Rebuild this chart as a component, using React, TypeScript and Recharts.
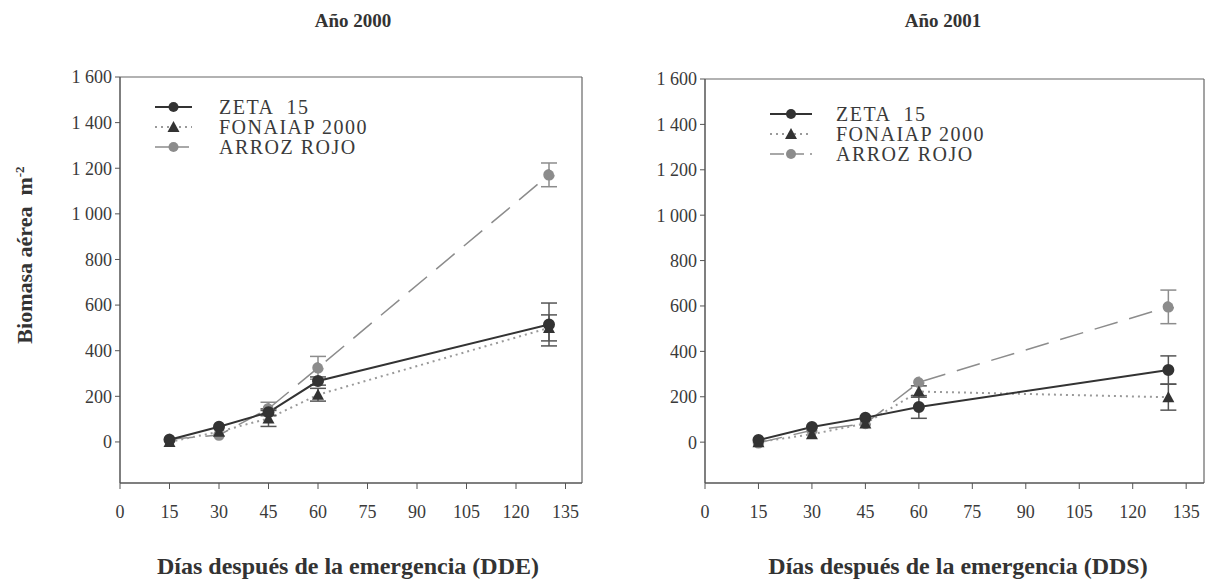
import { LineChart, Line, XAxis, YAxis, ErrorBar, ReferenceLine, Legend } from 'recharts';

const days = [15, 30, 45, 60, 130];

const zeta2000 = [10, 67, 130, 267, 515];
const zeta2000Err = [null, null, 15, 18, 94];
const fonaiap2000 = [0, 45, 103, 207, 500];
const fonaiap2000Err = [null, null, 35, 28, 57];
const arroz2000 = [12, 30, 146, 325, 1171];
const arroz2000Err = [null, null, 28, 50, 52];

const zeta2001 = [9, 67, 108, 155, 318];
const zeta2001Err = [null, null, null, 50, 62];
const fonaiap2001 = [0, 35, 82, 223, 198];
const fonaiap2001Err = [null, null, null, 25, 57];
const arroz2001 = [-3, 52, 82, 264, 596];
const arroz2001Err = [null, null, null, null, 74];

const xTicks = [0, 15, 30, 45, 60, 75, 90, 105, 120, 135];
const yTicks = [0, 200, 400, 600, 800, 1000, 1200, 1400, 1600];
const seriesNames = ['ZETA  15', 'FONAIAP 2000', 'ARROZ ROJO'];

const SERIF = '"Liberation Serif", "DejaVu Serif", serif';
const DARK = '#333';
const GREY = '#8c8c8c';

function buildRows(zeta, zetaErr, fon, fonErr, arroz, arrozErr) {
  return days.map((d, i) => ({
    day: d,
    zeta: zeta[i],
    zetaErr: zetaErr[i],
    fonaiap: fon[i],
    fonaiapErr: fonErr[i],
    arroz: arroz[i],
    arrozErr: arrozErr[i],
  }));
}

const rows2000 = buildRows(zeta2000, zeta2000Err, fonaiap2000, fonaiap2000Err, arroz2000, arroz2000Err);
const rows2001 = buildRows(zeta2001, zeta2001Err, fonaiap2001, fonaiap2001Err, arroz2001, arroz2001Err);

const fmtY = (v: number) =>
  v >= 1000 ? `${Math.floor(v / 1000)} ${String(v % 1000).padStart(3, '0')}` : String(v);

const Triangle = (props: any) => {
  const { cx, cy, index } = props;
  if (cx == null || cy == null) return null;
  return (
    <polygon
      key={`tri-${index}`}
      points={`${cx},${cy - 6} ${cx - 6},${cy + 5} ${cx + 6},${cy + 5}`}
      fill={DARK}
    />
  );
};

const legendStyles = [
  { stroke: DARK, dash: undefined, width: 2, marker: 'circle', fill: DARK },
  { stroke: '#9a9a9a', dash: '2 4', width: 2, marker: 'triangle', fill: DARK },
  { stroke: GREY, dash: '14 6', width: 1.5, marker: 'circle', fill: GREY },
];

const ROW = 20;

function SeriesLegend({ lineWidth, gap }) {
  return (
    <div style={{ fontFamily: SERIF, fontSize: 20, letterSpacing: 1.5, color: '#3a3a3a', lineHeight: `${ROW}px` }}>
      {seriesNames.map((name, i) => {
        const s = legendStyles[i];
        const mid = lineWidth / 2;
        return (
          <div key={name} style={{ display: 'flex', alignItems: 'center', height: ROW }}>
            <svg width={lineWidth} height={ROW} style={{ flexShrink: 0 }}>
              <line x1={0} x2={lineWidth} y1={ROW / 2} y2={ROW / 2} stroke={s.stroke} strokeWidth={s.width} strokeDasharray={s.dash} />
              {s.marker === 'circle' ? (
                <circle cx={mid} cy={ROW / 2} r={5} fill={s.fill} />
              ) : (
                <polygon points={`${mid},${ROW / 2 - 6} ${mid - 6},${ROW / 2 + 5} ${mid + 6},${ROW / 2 + 5}`} fill={s.fill} />
              )}
            </svg>
            <span style={{ marginLeft: gap, whiteSpace: 'pre' }}>{name}</span>
          </div>
        );
      })}
    </div>
  );
}

function Panel({ rows, width, marginLeft, yWidth, marginRight, marginTop, legendLeft, legendTop, legendLine, legendGap }) {
  const tick = { fontFamily: SERIF, fontSize: 18, fill: '#3a3a3a' };
  return (
    <LineChart
      width={width}
      height={585}
      data={rows}
      margin={{ top: marginTop, right: marginRight, bottom: 17, left: marginLeft }}
    >
      <XAxis
        dataKey="day"
        type="number"
        domain={[0, 140]}
        ticks={xTicks}
        interval={0}
        height={85}
        tick={tick}
        tickSize={6}
        tickMargin={16}
        axisLine={{ stroke: '#555', strokeWidth: 1.5 }}
        tickLine={{ stroke: '#555' }}
      />
      <YAxis
        type="number"
        domain={[-180, 1600]}
        ticks={yTicks}
        interval={0}
        width={yWidth}
        tick={tick}
        tickFormatter={fmtY}
        tickSize={5}
        tickMargin={3}
        axisLine={{ stroke: '#555', strokeWidth: 1.5 }}
        tickLine={{ stroke: '#555' }}
      />
      <ReferenceLine y={1600} stroke="#666" strokeWidth={1.2} />
      <ReferenceLine x={140} stroke="#666" strokeWidth={1.2} />
      <Legend
        layout="horizontal"
        align="center"
        verticalAlign="middle"
        content={() => <SeriesLegend lineWidth={legendLine} gap={legendGap} />}
        wrapperStyle={{ left: legendLeft, top: legendTop, width: 'auto' }}
      />
      <Line
        type="linear"
        dataKey="arroz"
        stroke={GREY}
        strokeWidth={1.5}
        strokeDasharray="24 12"
        dot={{ r: 5, fill: GREY, stroke: GREY }}
        isAnimationActive={false}
      >
        <ErrorBar dataKey="arrozErr" direction="y" width={8} stroke={GREY} strokeWidth={1.5} />
      </Line>
      <Line
        type="linear"
        dataKey="fonaiap"
        stroke="#9a9a9a"
        strokeWidth={2}
        strokeDasharray="2 4"
        dot={Triangle}
        isAnimationActive={false}
      >
        <ErrorBar dataKey="fonaiapErr" direction="y" width={8} stroke="#555" strokeWidth={1.5} />
      </Line>
      <Line
        type="linear"
        dataKey="zeta"
        stroke={DARK}
        strokeWidth={2}
        dot={{ r: 5, fill: DARK, stroke: DARK }}
        isAnimationActive={false}
      >
        <ErrorBar dataKey="zetaErr" direction="y" width={8} stroke="#555" strokeWidth={1.5} />
      </Line>
    </LineChart>
  );
}

const titleStyle = {
  position: 'absolute' as const,
  fontFamily: SERIF,
  fontWeight: 'bold' as const,
  color: '#333',
  whiteSpace: 'nowrap' as const,
  transform: 'translate(-50%, -50%)',
};

export default function App() {
  return (
    <div style={{ position: 'absolute', left: 0, top: 0, width: 1207, height: 585, background: '#fff', overflow: 'hidden' }}>
      <div style={{ position: 'absolute', left: 0, top: 0 }}>
        <Panel rows={rows2000} width={600} marginLeft={10} yWidth={110} marginRight={18} marginTop={77}
          legendLeft={155} legendTop={97} legendLine={37} legendGap={27} />
      </div>
      <div style={{ position: 'absolute', left: 600, top: 0 }}>
        <Panel rows={rows2001} width={607} marginLeft={10} yWidth={95} marginRight={3} marginTop={79}
          legendLeft={170} legendTop={104} legendLine={42} legendGap={24} />
      </div>
      <div style={{ ...titleStyle, left: 353, top: 21, fontSize: 19 }}>Año 2000</div>
      <div style={{ ...titleStyle, left: 943, top: 21, fontSize: 19 }}>Año 2001</div>
      <div style={{ ...titleStyle, left: 348, top: 566, fontSize: 24 }}>Días después de la emergencia (DDE)</div>
      <div style={{ ...titleStyle, left: 958, top: 566, fontSize: 24 }}>Días después de la emergencia (DDS)</div>
      <div style={{ ...titleStyle, left: 25, top: 255, fontSize: 22, transform: 'translate(-50%, -50%) rotate(-90deg)' }}>
        Biomasa aérea&nbsp; m<sup style={{ fontSize: 13 }}>-2</sup>
      </div>
    </div>
  );
}
